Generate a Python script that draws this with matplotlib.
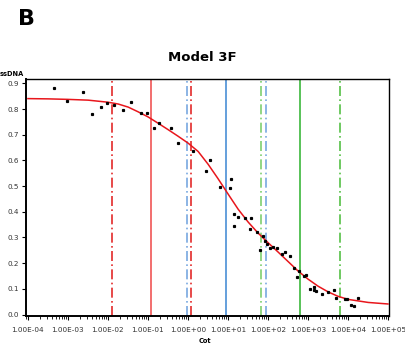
import matplotlib
matplotlib.use("Agg")
import matplotlib.pyplot as plt
from matplotlib.ticker import LogLocator, FixedLocator, NullFormatter

# measured points (Cot, fraction ssDNA)
cot_pts = [4.6e-4, 9.3e-4, 2.4e-3, 3.9e-3, 6.7e-3, 9.5e-3, 1.4e-2, 2.4e-2, 3.7e-2,
           6.7e-2, 9.3e-2, 0.14, 0.19, 0.37, 0.55, 1.35, 2.75, 3.55, 6.3, 11.2,
           11.9, 13.8, 14.5, 17.4, 26.9, 35.5, 37, 52, 65, 75, 84, 93, 112, 132,
           166, 229, 269, 355, 457, 537, 603, 813, 891, 1150, 1410, 1400, 1550,
           2240, 3090, 4370, 5130, 8320, 9330, 12000, 14100, 17800]
ss_pts = [0.883, 0.832, 0.866, 0.781, 0.809, 0.824, 0.818, 0.796, 0.828,
          0.784, 0.784, 0.726, 0.745, 0.726, 0.670, 0.636, 0.560, 0.601, 0.495, 0.491,
          0.527, 0.391, 0.344, 0.381, 0.375, 0.334, 0.374, 0.320, 0.252, 0.307, 0.287, 0.273, 0.259, 0.263,
          0.260, 0.234, 0.243, 0.228, 0.182, 0.145, 0.169, 0.150, 0.155, 0.101, 0.108, 0.095, 0.091,
          0.081, 0.088, 0.097, 0.065, 0.060, 0.060, 0.037, 0.034, 0.064]

# fitted curve
cot_fit = [1e-4, 3.2e-4, 1e-3, 3.2e-3, 1e-2, 1.8e-2, 3.2e-2, 5.6e-2, 0.1, 0.18,
           0.32, 0.56, 1, 1.8, 3.2, 5.6, 10, 18, 32, 56, 100, 180, 320, 560,
           1000, 1800, 3200, 5600, 1e4, 3.2e4, 1e5]
ss_fit = [0.841, 0.840, 0.838, 0.835, 0.827, 0.820, 0.808, 0.790, 0.770, 0.745,
          0.720, 0.695, 0.668, 0.635, 0.585, 0.530, 0.470, 0.410, 0.360, 0.318,
          0.280, 0.243, 0.206, 0.170, 0.138, 0.110, 0.088, 0.071, 0.059, 0.047, 0.041]

# component Cot1/2 markers and ranges
vlines = [
    (0.0123, "#e32a2a", (0, (6, 2, 1, 2))),
    (0.119, "#f05555", "-"),
    (0.93, "#78a8e0", (0, (6, 2, 1, 2))),
    (1.21, "#e32a2a", (0, (6, 2, 1, 2))),
    (8.9, "#4a8fd6", "-"),
    (66, "#7fcf6f", (0, (6, 2, 1, 2))),
    (87, "#78a8e0", (0, (6, 2, 1, 2))),
    (630, "#3cb83c", "-"),
    (6400, "#55c045", (0, (6, 2, 1, 2))),
]

xtick_vals = [1e-4, 1e-3, 1e-2, 1e-1, 1e0, 1e1, 1e2, 1e3, 1e4, 1e5]
xtick_labels = ["1.00E-04", "1.00E-03", "1.00E-02", "1.00E-01", "1.00E+00",
                "1.00E+01", "1.00E+02", "1.00E+03", "1.00E+04", "1.00E+05"]
ytick_vals = [0.0, 0.1, 0.2, 0.3, 0.4, 0.5, 0.6, 0.7, 0.8, 0.9]

fig = plt.figure(figsize=(4.05, 3.5), dpi=100)
ax = fig.add_axes([0.064, 0.097, 0.896, 0.677])

for x, c, ls in vlines:
    ax.axvline(x, color=c, linestyle=ls, linewidth=1.2, zorder=1)

ax.plot(cot_fit, ss_fit, color="#e8161c", linewidth=1.1, zorder=3)
ax.plot(cot_pts, ss_pts, linestyle="none", marker="s", markersize=1.3,
        color="black", zorder=4)

ax.set_xscale("log")
ax.set_xlim(10 ** -4.05, 10 ** 5.02)
ax.set_ylim(-0.006, 0.917)

ax.xaxis.set_major_locator(FixedLocator(xtick_vals))
ax.set_xticklabels(xtick_labels)
ax.xaxis.set_minor_locator(LogLocator(base=10, subs=range(2, 10), numticks=20))
ax.xaxis.set_minor_formatter(NullFormatter())
ax.set_yticks(ytick_vals)
ax.set_yticklabels(["%.1f" % v for v in ytick_vals])

ax.tick_params(axis="both", which="major", labelsize=5.2, labelcolor="#333333",
               length=3, width=0.8, direction="out", pad=2)
ax.tick_params(axis="x", which="minor", length=2, width=0.6, direction="out")
ax.tick_params(axis="x", which="major", pad=5)

for s in ax.spines.values():
    s.set_linewidth(1.0)
ax.spines["left"].set_linewidth(1.4)
ax.spines["bottom"].set_linewidth(1.4)

fig.text(0.5, 0.835, "Model 3F", ha="center", va="center",
         fontsize=9.5, fontweight="bold")
fig.text(0.045, 0.945, "B", ha="left", va="center", fontsize=16, fontweight="bold")
fig.text(0.0, 0.789, "ssDNA", ha="left", va="center", fontsize=4.8, fontweight="bold")
fig.text(0.507, 0.026, "Cot", ha="center", va="center", fontsize=4.8, fontweight="bold")

fig.savefig("out.png", dpi=100)
